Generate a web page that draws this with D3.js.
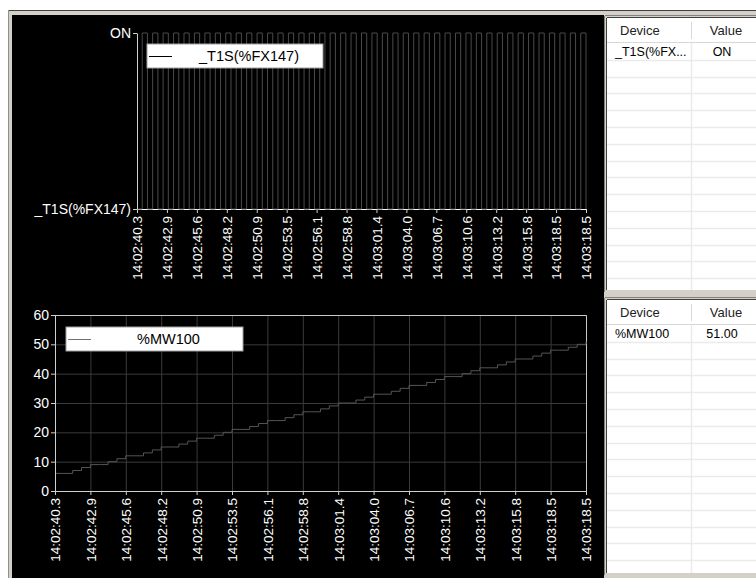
<!DOCTYPE html>
<html>
<head>
<meta charset="utf-8">
<script src="https://cdn.jsdelivr.net/npm/d3@7"></script>
<style>
  body { margin: 0; background: #fff; }
  svg { display: block; font-family: "Liberation Sans", Arial, sans-serif; }
</style>
</head>
<body>
<svg id="trend" width="756" height="578"></svg>
<script>
// x axis labels, shared by both trend charts (last one repeats in the original)
const timeLabels = ['14:02:40.3', '14:02:42.9', '14:02:45.6', '14:02:48.2', '14:02:50.9',
  '14:02:53.5', '14:02:56.1', '14:02:58.8', '14:03:01.4', '14:03:04.0', '14:03:06.7',
  '14:03:10.6', '14:03:13.2', '14:03:15.8', '14:03:18.5', '14:03:18.5'];

// _T1S(%FX147) samples, 6 per label interval, 0 = off / 1 = ON
const fxState = [0, 1, 0, 1, 0, 1, 0, 1, 0, 1, 0, 1, 0, 1, 0, 1, 0, 1, 0, 1, 0, 1, 0, 1, 0, 1,
  0, 1, 0, 1, 0, 1, 0, 1, 0, 1, 0, 1, 0, 1, 0, 1, 0, 1, 0, 1, 0, 1, 0, 1, 0, 1, 0, 1, 0, 1,
  0, 1, 0, 1, 0, 1, 0, 1, 0, 1, 0, 1, 0, 1, 0, 1, 0, 1, 0, 1, 0, 1, 0, 1, 0, 1, 0, 1, 0, 1, 0];
const fxLevels = ['_T1S(%FX147)', 'ON'];

// %MW100 samples, 4 per label interval
const mwValues = [6, 6, 7, 8, 9, 9, 10, 11, 12, 12, 13, 14, 15, 15, 16, 17, 18, 18, 19, 20,
  21, 21, 22, 23, 24, 24, 25, 26, 27, 27, 28, 29, 30, 30, 31, 32, 33, 33, 34, 35, 36, 36,
  37, 38, 39, 39, 40, 41, 42, 42, 43, 44, 45, 45, 46, 47, 48, 48, 49, 50, 51];
const mwTicks = [0, 10, 20, 30, 40, 50, 60];

// the two value tables on the right
const tableHeader = ['Device', 'Value'];
const topDevices = ['_T1S(%FX...'];
const topValues = ['ON'];
const bottomDevices = ['%MW100'];
const bottomValues = ['51.00'];

const svg = d3.select('#trend');

// window frame
svg.append('rect').attr('x', 8).attr('y', 10).attr('width', 748).attr('height', 568).attr('fill', '#d4d0c8');
svg.append('line').attr('x1', 8).attr('x2', 756).attr('y1', 10.5).attr('y2', 10.5).attr('stroke', '#404040');
svg.append('line').attr('x1', 8.5).attr('x2', 8.5).attr('y1', 10).attr('y2', 578).attr('stroke', '#909090');
svg.append('rect').attr('x', 12).attr('y', 15).attr('width', 592).attr('height', 563).attr('fill', '#000');

// ---------- top chart: digital signal ----------
const xTop = d3.scaleLinear().domain([0, timeLabels.length - 1]).range([137, 586]);
const yTop = d3.scalePoint().domain(fxLevels).range([209, 33]);

// white time axis first, the grey OFF segments get drawn over it
const topXAxis = svg.append('g')
  .attr('transform', 'translate(0,209)')
  .call(d3.axisBottom(xTop)
    .tickValues(d3.range(timeLabels.length))
    .tickFormat(i => timeLabels[i])
    .tickSize(4).tickSizeOuter(0));

const fxStep = (timeLabels.length - 1) / (fxState.length - 1);
svg.append('path')
  .datum(fxState)
  .attr('fill', 'none')
  .attr('stroke', '#4a4a4a')
  .attr('stroke-width', 1)
  .attr('d', d3.line()
    .x((d, i) => xTop(i * fxStep))
    .y(d => yTop(fxLevels[d]))
    .curve(d3.curveStepAfter));

const topYAxis = svg.append('g')
  .attr('transform', 'translate(137,0)')
  .call(d3.axisLeft(yTop).tickSize(4).tickSizeOuter(0));

// ---------- bottom chart: %MW100 ----------
const xBot = d3.scaleLinear().domain([0, timeLabels.length - 1]).range([55, 586]);
const yBot = d3.scaleLinear().domain([0, 60]).range([491, 315]);

// grid
svg.append('g').selectAll('line.v')
  .data(d3.range(1, timeLabels.length))
  .enter().append('line')
  .attr('x1', d => xBot(d) + 0.5).attr('x2', d => xBot(d) + 0.5)
  .attr('y1', yBot(60)).attr('y2', yBot(0))
  .attr('stroke', '#3a3a3a');
svg.append('g').selectAll('line.h')
  .data(mwTicks.slice(1))
  .enter().append('line')
  .attr('x1', xBot(0)).attr('x2', xBot(timeLabels.length - 1))
  .attr('y1', d => yBot(d) + 0.5).attr('y2', d => yBot(d) + 0.5)
  .attr('stroke', '#3a3a3a');

// plot frame (top and right edges)
svg.append('path')
  .attr('d', `M${xBot(0)},${yBot(60) + 0.5}H${xBot(15) + 0.5}V${yBot(0)}`)
  .attr('fill', 'none').attr('stroke', '#c8c8c8');

const mwStep = (timeLabels.length - 1) / (mwValues.length - 1);
svg.append('path')
  .datum(mwValues)
  .attr('fill', 'none')
  .attr('stroke', '#555')
  .attr('stroke-width', 1)
  .attr('d', d3.line()
    .x((d, i) => xBot(i * mwStep))
    .y(d => yBot(d))
    .curve(d3.curveStepAfter));

const botXAxis = svg.append('g')
  .attr('transform', 'translate(0,491)')
  .call(d3.axisBottom(xBot)
    .tickValues(d3.range(timeLabels.length))
    .tickFormat(i => timeLabels[i])
    .tickSize(4).tickSizeOuter(0));

const botYAxis = svg.append('g')
  .attr('transform', 'translate(55,0)')
  .call(d3.axisLeft(yBot).tickValues(mwTicks).tickFormat(d3.format('d')).tickSize(4).tickSizeOuter(0));

// shared axis styling
[topXAxis, botXAxis].forEach(g => {
  g.selectAll('text')
    .attr('transform', 'rotate(-90)')
    .attr('text-anchor', 'end')
    .attr('x', -7).attr('y', 0).attr('dy', '0.36em')
    .style('font-size', '13.5px');
});
[topYAxis, botYAxis].forEach(g => {
  g.selectAll('text').style('font-size', '14px').attr('x', -6);
});
[topXAxis, botXAxis, topYAxis, botYAxis].forEach(g => {
  g.select('.domain').attr('stroke', '#d0d0d0');
  g.selectAll('.tick line').attr('stroke', '#d0d0d0');
  g.selectAll('text').attr('fill', '#fff').style('font-family', '"Liberation Sans", Arial, sans-serif');
});
topXAxis.select('.domain').attr('stroke', '#ffffff');

// legends
function legend(x, y, w, label, lineColor) {
  const g = svg.append('g').attr('transform', `translate(${x},${y})`);
  g.append('rect').attr('width', w).attr('height', 24).attr('fill', '#fff').attr('stroke', '#a0a0a0');
  g.append('line').attr('x1', 2).attr('x2', 25).attr('y1', 12.5).attr('y2', 12.5).attr('stroke', lineColor);
  g.append('text').attr('x', w / 2 + 14).attr('y', 12).attr('dy', '0.36em')
    .attr('text-anchor', 'middle').style('font-size', '14.5px').attr('fill', '#000').text(label);
}
legend(147, 44, 176, fxLevels[0], '#000');
legend(66, 327, 177, bottomDevices[0], '#707070');

// ---------- right side device tables ----------
function table(top, bottom, devices, values) {
  const left = 607, right = 756, colX = 691, headH = 25, rowH = 16.8;
  const g = svg.append('g');
  g.append('rect').attr('x', left).attr('y', top).attr('width', right - left).attr('height', bottom - top).attr('fill', '#fff');
  g.append('line').attr('x1', left - 0.5).attr('x2', left - 0.5).attr('y1', top).attr('y2', bottom).attr('stroke', '#404040');
  g.append('line').attr('x1', left - 2.5).attr('x2', left - 2.5).attr('y1', top - 2).attr('y2', bottom + 2).attr('stroke', '#808080');
  g.append('line').attr('x1', left).attr('x2', right).attr('y1', top - 0.5).attr('y2', top - 0.5).attr('stroke', '#404040');
  g.append('line').attr('x1', left - 2).attr('x2', right).attr('y1', top - 2.5).attr('y2', top - 2.5).attr('stroke', '#808080');
  g.append('line').attr('x1', left).attr('x2', right).attr('y1', top + headH - 0.5).attr('y2', top + headH - 0.5).attr('stroke', '#d8d8d8');
  g.append('line').attr('x1', colX + 0.5).attr('x2', colX + 0.5).attr('y1', top + 4).attr('y2', top + headH - 4).attr('stroke', '#d8d8d8');
  const rows = d3.range(1, Math.floor((bottom - top - headH) / rowH) + 1);
  g.selectAll('line.row').data(rows).enter().append('line')
    .attr('x1', left).attr('x2', right)
    .attr('y1', d => Math.round(top + headH + d * rowH) + 0.5)
    .attr('y2', d => Math.round(top + headH + d * rowH) + 0.5)
    .attr('stroke', '#ebebeb').attr('stroke-width', 1.5);
  g.append('line').attr('x1', colX + 0.5).attr('x2', colX + 0.5).attr('y1', top + headH).attr('y2', bottom).attr('stroke', '#ebebeb').attr('stroke-width', 1.5);
  g.append('text').attr('x', 620).attr('y', top + headH / 2).attr('dy', '0.36em').style('font-size', '13px').attr('fill', '#222').text(tableHeader[0]);
  g.append('text').attr('x', 726).attr('y', top + headH / 2).attr('dy', '0.36em').attr('text-anchor', 'middle').style('font-size', '13px').attr('fill', '#222').text(tableHeader[1]);
  devices.forEach((d, i) => {
    const cy = top + headH + rowH * i + rowH / 2;
    g.append('text').attr('x', 615).attr('y', cy).attr('dy', '0.36em').style('font-size', '12.5px').attr('fill', '#000').text(d);
    g.append('text').attr('x', 722).attr('y', cy).attr('dy', '0.36em').attr('text-anchor', 'middle').style('font-size', '12.5px').attr('fill', '#000').text(values[i]);
  });
}
table(18, 290, topDevices, topValues);
table(300, 573, bottomDevices, bottomValues);
</script>
</body>
</html>
